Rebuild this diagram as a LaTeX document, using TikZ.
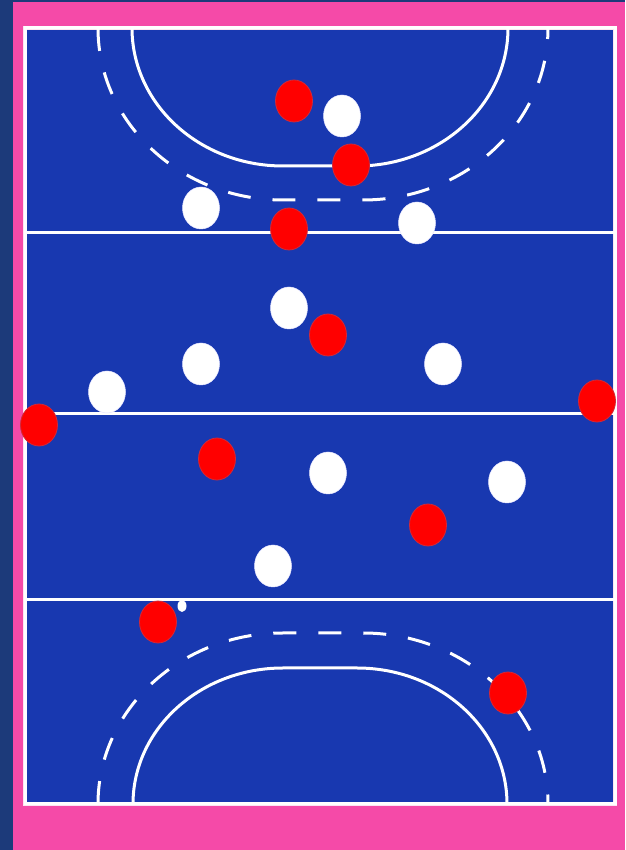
\documentclass[tikz,border=0pt]{standalone}
\usetikzlibrary{shapes.geometric}
\definecolor{navy}{HTML}{1C3A7A}
\definecolor{pinkb}{HTML}{F54AA8}
\definecolor{field}{HTML}{1838B0}
\definecolor{redp}{HTML}{FF0000}
\definecolor{redo}{HTML}{D02A3A}
\tikzset{
  courtline/.style={draw=white, line width=3pt},
  dashline/.style={draw=white, line width=3pt, dash pattern=on 23pt off 22pt},
  redplayer/.style={ellipse, fill=redp, draw=redo, line width=0.8pt, minimum width=37pt, minimum height=42pt, inner sep=0pt},
  whiteplayer/.style={ellipse, fill=white, draw=white!90!blue, line width=0.5pt, minimum width=37pt, minimum height=42pt, inner sep=0pt},
  ballstyle/.style={ellipse, fill=white, minimum width=9pt, minimum height=12pt, inner sep=0pt}
}
\begin{document}
\begin{tikzpicture}[x=1pt,y=1pt]
\useasboundingbox (0,0) rectangle (625,850);
\fill[navy] (0,0) rectangle (625,850);
\fill[pinkb] (13,0) rectangle (625,848);
\fill[field] (25,46) rectangle (615,822);
\draw[courtline, draw=white!85!pinkb, line width=4pt] (25,46) rectangle (615,822);
\draw[courtline] (25,46) rectangle (615,822);
% horizontal lines
\draw[courtline] (25,617) -- (615,617);
\draw[courtline] (25,436) -- (615,436);
\draw[courtline] (25,250) -- (615,250);
% top D
\draw[courtline] (132,822) arc[start angle=180,end angle=270,x radius=151,y radius=138] -- (357,684) arc[start angle=270,end angle=360,x radius=151,y radius=138];
\draw[dashline] (98,822) arc[start angle=180,end angle=270,x radius=185,y radius=172] -- (363,650) arc[start angle=270,end angle=360,x radius=185,y radius=172];
% bottom D
\draw[courtline] (133,46) arc[start angle=180,end angle=90,x radius=150,y radius=136] -- (357,182) arc[start angle=90,end angle=0,x radius=150,y radius=136];
\draw[dashline] (98,46) arc[start angle=180,end angle=90,x radius=185,y radius=171] -- (363,217) arc[start angle=90,end angle=0,x radius=185,y radius=171];
% white players
\node[whiteplayer] (w1) at (342,734) {};
\node[whiteplayer] (w2) at (201,642) {};
\node[whiteplayer] (w3) at (417,627) {};
\node[whiteplayer] (w4) at (289,542) {};
\node[whiteplayer] (w5) at (201,486) {};
\node[whiteplayer] (w6) at (107,458) {};
\node[whiteplayer] (w7) at (443,486) {};
\node[whiteplayer] (w8) at (328,377) {};
\node[whiteplayer] (w9) at (507,368) {};
\node[whiteplayer] (w10) at (273,284) {};
% red players
\node[redplayer] (r1) at (294,749) {};
\node[redplayer] (r2) at (351,685) {};
\node[redplayer] (r3) at (289,621) {};
\node[redplayer] (r4) at (328,515) {};
\node[redplayer] (r5) at (39,425) {};
\node[redplayer] (r6) at (597,449) {};
\node[redplayer] (r7) at (217,391) {};
\node[redplayer] (r8) at (428,325) {};
\node[redplayer] (r9) at (158,228) {};
\node[redplayer] (r10) at (508,157) {};
% ball
\node[ballstyle] (ball) at (182,244) {};
\end{tikzpicture}
\end{document}
